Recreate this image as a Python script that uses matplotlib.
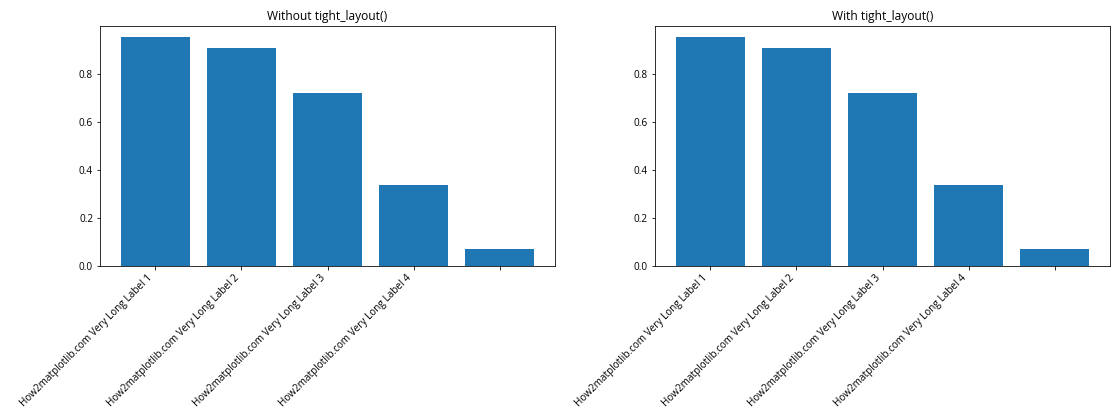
import numpy as np
import matplotlib.pyplot as plt

plt.rcParams['font.family'] = ['Open Sans', 'DejaVu Sans']

labels = ['How2matplotlib.com Very Long Label 1',
          'How2matplotlib.com Very Long Label 2',
          'How2matplotlib.com Very Long Label 3',
          'How2matplotlib.com Very Long Label 4']
values = [0.95, 0.908, 0.721, 0.338, 0.071]
titles = ['Without tight_layout()', 'With tight_layout()']

fig = plt.figure(figsize=(1120 / 72, 420 / 72), dpi=72)
ax1 = fig.add_axes([0.0893, 0.367, 0.4063, 0.571])
ax2 = fig.add_axes([0.5848, 0.367, 0.4063, 0.571])

x = np.arange(len(values))
for ax, t in zip([ax1, ax2], titles):
    ax.bar(x, values, color='#1f77b4')
    ax.set_xticks(x)
    ax.set_xticklabels(labels + [''], rotation=45, ha='right')
    ax.set_title(t)

fig.savefig('out.png', dpi=72)
